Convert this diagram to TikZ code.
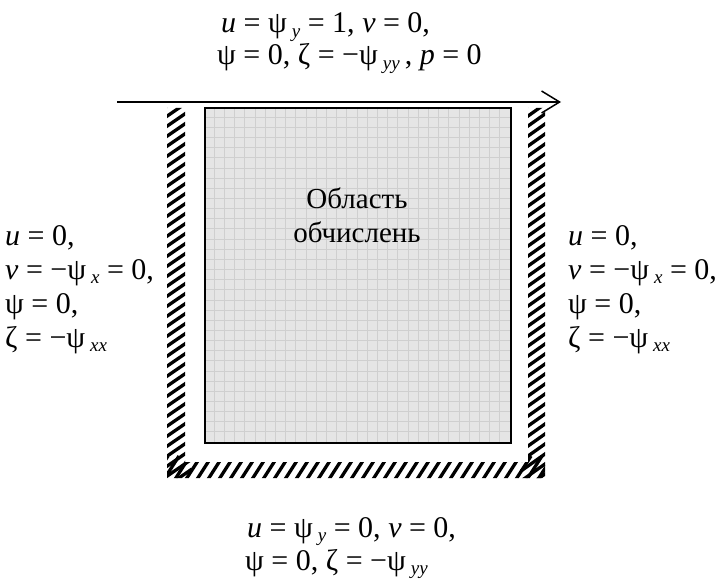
\documentclass[tikz,border=0pt]{standalone}
\usepackage{fontspec}
\setmainfont{Liberation Serif}
\usetikzlibrary{arrows.meta}
\newcommand\lowidx[1]{\,\raisebox{-0.3ex}{\fontsize{19}{19}\selectfont\itshape #1}}
\newcommand\vi[1]{\textit{#1}}
\definecolor{domfill}{gray}{0.90}
\definecolor{domgrid}{gray}{0.81}
\tikzset{
  eq/.style={anchor=base west, inner sep=0pt, font=\fontsize{30}{34}\selectfont},
  lbl/.style={anchor=base, inner sep=0pt, font=\fontsize{29}{34}\selectfont},
  hatch/.style={line width=3.3pt, black},
  gridline/.style={domgrid, line width=0.7pt}
}
\begin{document}
\begin{tikzpicture}[x=1pt,y=-1pt]
\useasboundingbox (0,0) rectangle (717,583);
% computational domain
\fill[domfill] (204,107) rectangle (510,442);
\foreach \i in {1,...,29} {
  \draw[gridline] (204+\i*10.2,107) -- (204+\i*10.2,442);
}
\foreach \j in {1,...,32} {
  \draw[gridline] (204,107+\j*10.15) -- (510,107+\j*10.15);
}
\node[draw, line width=1.8pt, minimum width=306pt, minimum height=335pt, inner sep=0pt, anchor=north west] (dom) at (204,107) {};
\node[lbl] (t1) at (357,208) {Область};
\node[lbl] (t2) at (357,242) {обчислень};
% hatched walls
\begin{scope}
  \clip (167,108) rectangle (185,478) (528,108) rectangle (545,478) (167,462) rectangle (545,478);
  \foreach \y in {100,110,...,480} {
    \draw[hatch] (160,\y+11) -- (192,\y-11);
    \draw[hatch] (521,\y+11) -- (552,\y-11);
  }
  \foreach \x in {150,161,...,560} {
    \draw[hatch] (\x,484) -- (\x+18,456);
  }
\end{scope}
% moving lid
\coordinate (a0) at (117,102);
\coordinate (a1) at (561,102);
\draw[line width=1.5pt, -{Straight Barb[length=18pt,width=22pt,line width=1.5pt]}] (a0) -- (a1);
% top
\node[eq] (top1) at (221,33) {\vi{u} = ψ\lowidx{y} = 1, \vi{v} = 0,};
\node[eq] (top2) at (217,65) {ψ = 0, ζ = −ψ\lowidx{yy}\,, \vi{p} = 0};
% left
\node[eq] (l1) at (5,245) {\vi{u} = 0,};
\node[eq] (l2) at (5,279) {\vi{v} = −ψ\lowidx{x} = 0,};
\node[eq] (l3) at (5,313) {ψ = 0,};
\node[eq] (l4) at (5,347) {ζ = −ψ\lowidx{xx}};
% right
\node[eq] (r1) at (568,245) {\vi{u} = 0,};
\node[eq] (r2) at (568,279) {\vi{v} = −ψ\lowidx{x} = 0,};
\node[eq] (r3) at (568,313) {ψ = 0,};
\node[eq] (r4) at (568,347) {ζ = −ψ\lowidx{xx}};
% bottom
\node[eq] (b1) at (247,537) {\vi{u} = ψ\lowidx{y} = 0, \vi{v} = 0,};
\node[eq] (b2) at (245,570) {ψ = 0, ζ = −ψ\lowidx{yy}};
\end{tikzpicture}
\end{document}
